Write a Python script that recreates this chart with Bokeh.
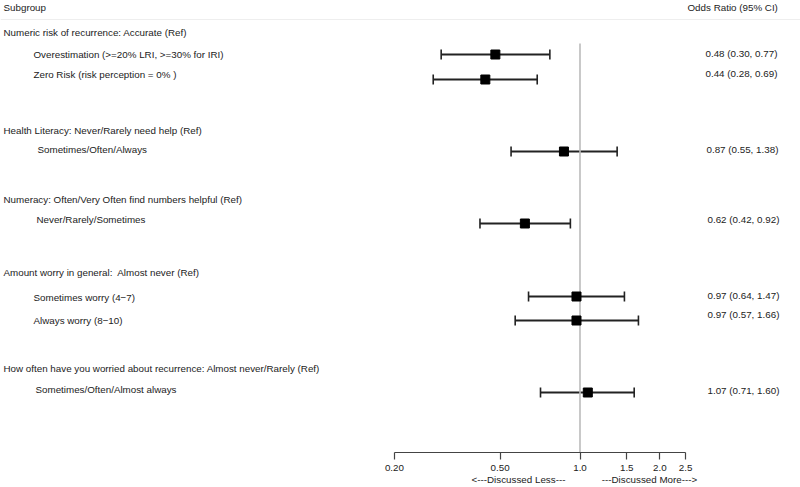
from bokeh.plotting import figure
from bokeh.models import (ColumnDataSource, Whisker, TeeHead, Label, Span,
                          FixedTicker, Range1d, LogAxis)
from bokeh.embed import file_html
from bokeh.resources import INLINE

# ---------------- data ----------------
headers = [
    "Numeric risk of recurrence: Accurate (Ref)",
    "Health Literacy: Never/Rarely need help (Ref)",
    "Numeracy: Often/Very Often find numbers helpful (Ref)",
    "Amount worry in general:\u00a0 Almost never (Ref)",
    "How often have you worried about recurrence: Almost never/Rarely (Ref)",
]
subgroups = [
    "Overestimation (>=20% LRI, >=30% for IRI)",
    "Zero Risk (risk perception = 0% )",
    "Sometimes/Often/Always",
    "Never/Rarely/Sometimes",
    "Sometimes worry (4\u22127)",
    "Always worry (8\u221210)",
    "Sometimes/Often/Almost always",
]
odds_ratio = [0.48, 0.44, 0.87, 0.62, 0.97, 0.97, 1.07]
ci_low = [0.30, 0.28, 0.55, 0.42, 0.64, 0.57, 0.71]
ci_high = [0.77, 0.69, 1.38, 0.92, 1.47, 1.66, 1.60]
tick_values = [0.2, 0.5, 1.0, 1.5, 2.0, 2.5]
tick_labels = ["0.20", "0.50", "1.0", "1.5", "2.0", "2.5"]
direction_labels = ["<---Discussed Less---", "---Discussed More--->"]

# ---------------- layout (pixel rows / columns) ----------------
header_y = [32, 130, 199, 272, 368]
label_y = [54, 74, 149, 219, 297, 320, 389]
label_x = [33, 33, 37, 36, 33, 33, 35]
marker_y = [54, 79, 151, 223, 296, 320, 392]
or_text_y = [53, 73, 149, 219, 295, 314, 390]
or_text_x = [705, 705, 706, 707, 707, 707, 707]
direction_center_px = [518, 649]

W, H = 800, 487
AXIS_Y = 452
one_px = 579.5
decade_px = 265.5
x_start = 10 ** (-one_px / decade_px)
x_end = 10 ** ((W - one_px) / decade_px)


def px_to_x(px):
    return round(10 ** ((px - one_px) / decade_px), 4)


FONT = "Liberation Sans"
FS = "9.8px"
TXT = "#222222"

p = figure(width=W, height=H, output_backend="svg", toolbar_location=None,
           x_axis_type="log", y_axis_location=None,
           x_range=Range1d(x_start, x_end), y_range=Range1d(AXIS_Y, 0),
           min_border_left=0, min_border_right=0, min_border_top=0,
           min_border_bottom=H - AXIS_Y)
p.outline_line_color = None
p.xgrid.visible = False
p.ygrid.visible = False
p.background_fill_color = "white"
p.border_fill_color = "white"

ax = p.xaxis[0]
ax.ticker = FixedTicker(ticks=tick_values)
ax.major_label_overrides = {v: l for v, l in zip(tick_values, tick_labels)}
ax.bounds = (tick_values[0], tick_values[-1])
ax.minor_tick_line_color = None
ax.axis_line_color = "#444444"
ax.axis_line_width = 1.2
ax.major_tick_line_color = "#444444"
ax.major_tick_line_width = 1.2
ax.major_tick_out = 7
ax.major_tick_in = 0
ax.major_label_standoff = 5
ax.major_label_text_font = FONT
ax.major_label_text_font_size = FS
ax.major_label_text_color = TXT

# second axis row carrying the direction captions
dir_ticks = [px_to_x(c) for c in direction_center_px]
ax2 = LogAxis(ticker=FixedTicker(ticks=dir_ticks),
              major_label_overrides={t: l for t, l in zip(dir_ticks, direction_labels)},
              axis_line_color=None, major_tick_line_color=None,
              minor_tick_line_color=None, major_tick_out=0, major_tick_in=0,
              major_label_standoff=0, major_label_text_font=FONT,
              major_label_text_font_size=FS, major_label_text_color=TXT)
p.add_layout(ax2, "below")

# header separator
p.add_layout(Span(location=19, dimension="width", line_color="#eeeeee", line_width=1))

# reference line at OR = 1
p.segment(x0=[1.0], y0=[43], x1=[1.0], y1=[AXIS_Y], line_color="#bbbbbb", line_width=1.6)

src = ColumnDataSource(dict(y=marker_y, est=odds_ratio, lo=ci_low, hi=ci_high))
wk = Whisker(source=src, base="y", lower="lo", upper="hi", dimension="width",
             line_color="#222222", line_width=2,
             lower_head=TeeHead(size=10, line_color="#222222", line_width=1.6),
             upper_head=TeeHead(size=10, line_color="#222222", line_width=1.6))
p.add_layout(wk)
p.scatter(x="est", y="y", source=src, marker="square", size=9,
          fill_color="black", line_color="black")


def add_label(text, x_px, y_px, align="left"):
    p.add_layout(Label(x=x_px, y=y_px, x_units="screen", y_units="data",
                       text=text, text_font=FONT, text_font_size=FS,
                       text_color=TXT, text_align=align, text_baseline="middle"))


add_label("Subgroup", 3, 7)
add_label("Odds Ratio (95% CI)", 687, 7)
for h, y in zip(headers, header_y):
    add_label(h, 3, y)
for s, x, y in zip(subgroups, label_x, label_y):
    add_label(s, x, y)
for e, lo, hi, x, y in zip(odds_ratio, ci_low, ci_high, or_text_x, or_text_y):
    add_label(f"{e:.2f} ({lo:.2f}, {hi:.2f})", x, y)

open("out.html", "w").write(file_html(p, INLINE))
